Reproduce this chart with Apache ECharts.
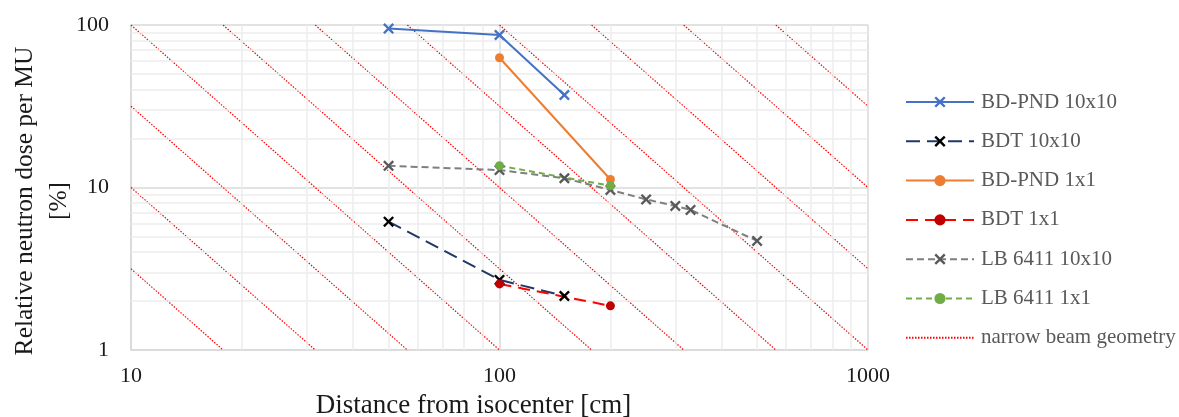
<!DOCTYPE html>
<html>
<head>
<meta charset="utf-8">
<script src="https://cdn.jsdelivr.net/npm/echarts@6/dist/echarts.min.js"></script>
<style>
  html, body { margin: 0; padding: 0; background: #ffffff; }
  #chart { width: 1179px; height: 417px; }
</style>
</head>
<body>
<div id="chart"></div>
<script>
// Relative neutron dose per MU [%] against distance from isocenter [cm]
const distBdPnd10 = [50, 100, 150];
const doseBdPnd10 = [95, 86.8, 37.1];

const distBdt10 = [50, 100, 150];
const doseBdt10 = [6.16, 2.70, 2.15];

const distBdPnd1 = [100, 200];
const doseBdPnd1 = [62.9, 11.2];

const distBdt1 = [100, 200];
const doseBdt1 = [2.55, 1.87];

const distLb10 = [50, 100, 150, 200, 250, 300, 330, 500];
const doseLb10 = [13.6, 12.8, 11.4, 9.66, 8.45, 7.7, 7.28, 4.69];

const distLb1 = [100, 200];
const doseLb1 = [13.6, 10.26];

// Inverse-square reference lines (narrow beam geometry), end points clipped to the axes
const narrowBeamLines = [
  [[10, 3.162], [17.78, 1]],
  [[10, 10], [31.62, 1]],
  [[10, 31.62], [56.23, 1]],
  [[10, 100], [100, 1]],
  [[17.78, 100], [177.8, 1]],
  [[31.62, 100], [316.2, 1]],
  [[56.23, 100], [562.3, 1]],
  [[100, 100], [1000, 1]],
  [[177.8, 100], [1000, 3.162]],
  [[316.2, 100], [1000, 10]],
  [[562.3, 100], [1000, 31.62]]
];

// Axis ranges and minor grid positions
const xRange = [10, 1000];
const yRange = [1, 100];
const minorGridX = [20, 30, 40, 50, 60, 70, 80, 90, 200, 300, 400, 500, 600, 700, 800, 900];
const minorGridY = [2, 3, 4, 5, 6, 7, 8, 9, 20, 30, 40, 50, 60, 70, 80, 90];

const legendNames = ['BD-PND 10x10', 'BDT 10x10', 'BD-PND 1x1', 'BDT 1x1',
  'LB 6411 10x10', 'LB 6411 1x1', 'narrow beam geometry'];

const SERIF = "'Liberation Serif', 'Times New Roman', serif";
const CROSS = 'path://M1.5,0 L5,3.5 L8.5,0 L10,1.5 L6.5,5 L10,8.5 L8.5,10 L5,6.5 L1.5,10 L0,8.5 L3.5,5 L0,1.5 Z';

function pairs(xs, ys) {
  return xs.map((x, i) => [x, ys[i]]);
}

function dataSeries(name, xs, ys, lineColor, markColor, dash, symbol, symbolSize) {
  return {
    name: name,
    type: 'line',
    z: 5,
    data: pairs(xs, ys),
    symbol: symbol,
    symbolSize: symbolSize,
    showSymbol: true,
    lineStyle: { color: lineColor, width: 2, type: dash },
    itemStyle: { color: markColor, borderColor: markColor, borderWidth: 0 },
    emphasis: { disabled: true },
    animation: false
  };
}

const series = [];

// grid lines drawn as value lines through the axes
series.push({
  type: 'line',
  data: [],
  z: 1,
  silent: true,
  animation: false,
  markLine: {
    silent: true,
    symbol: 'none',
    animation: false,
    label: { show: false },
    lineStyle: { color: '#ECECEC', width: 1.5, type: 'solid' },
    data: minorGridX.map(v => ({ xAxis: v })).concat(minorGridY.map(v => ({ yAxis: v })))
  }
});

narrowBeamLines.forEach(seg => {
  series.push({
    name: 'narrow beam geometry',
    type: 'line',
    z: 3,
    data: seg,
    symbol: 'none',
    lineStyle: { color: '#FF0000', width: 1.2, type: [1.5, 1.5] },
    itemStyle: { color: '#FF0000' },
    emphasis: { disabled: true },
    animation: false
  });
});

series.push(dataSeries('BD-PND 10x10', distBdPnd10, doseBdPnd10, '#4472C4', '#4472C4', 'solid', CROSS, 11));
series.push(dataSeries('BDT 10x10', distBdt10, doseBdt10, '#203864', '#000000', [14, 7], CROSS, 11));
series.push(dataSeries('BD-PND 1x1', distBdPnd1, doseBdPnd1, '#ED7D31', '#ED7D31', 'solid', 'circle', 9));
series.push(dataSeries('BDT 1x1', distBdt1, doseBdt1, '#FF0000', '#C00000', [12, 7], 'circle', 9));
series.push(dataSeries('LB 6411 10x10', distLb10, doseLb10, '#7F7F7F', '#595959', [7, 4], CROSS, 11));
series.push(dataSeries('LB 6411 1x1', distLb1, doseLb1, '#70AD47', '#70AD47', [6, 4], 'circle', 9));

const legendData = legendNames.map(n =>
  n === 'narrow beam geometry' ? { name: n, itemStyle: { opacity: 0 } } : { name: n });

const chart = echarts.init(document.getElementById('chart'), null, { renderer: 'canvas' });

chart.setOption({
  backgroundColor: '#ffffff',
  animation: false,
  grid: { left: 131, right: 311, top: 25, bottom: 67, containLabel: false, outerBoundsMode: 'none' },
  xAxis: {
    type: 'log',
    logBase: 10,
    min: xRange[0],
    max: xRange[1],
    name: 'Distance from isocenter [cm]',
    nameLocation: 'middle',
    nameGap: 42,
    nameMoveOverlap: false,
    nameTextStyle: { fontFamily: SERIF, fontSize: 27, color: '#1a1a1a', padding: [0, 52, 0, 0] },
    axisLine: { show: true, lineStyle: { color: '#D9D9D9', width: 1.5 } },
    axisTick: { show: false },
    axisLabel: { fontFamily: SERIF, fontSize: 22, color: '#1a1a1a', margin: 15, formatter: v => String(v) },
    splitLine: { show: true, lineStyle: { color: '#D9D9D9', width: 1.5 } }
  },
  yAxis: {
    type: 'log',
    logBase: 10,
    min: yRange[0],
    max: yRange[1],
    name: 'Relative neutron dose per MU\n[%]',
    nameLocation: 'middle',
    nameRotate: 90,
    nameGap: 55,
    nameMoveOverlap: false,
    nameTextStyle: { fontFamily: SERIF, fontSize: 25.5, lineHeight: 34, color: '#1a1a1a', align: 'center', padding: [0, 27, 0, 0] },
    axisLine: { show: true, lineStyle: { color: '#D9D9D9', width: 1.5 } },
    axisTick: { show: false },
    axisLabel: { fontFamily: SERIF, fontSize: 22, color: '#1a1a1a', margin: 22, formatter: v => String(v) },
    splitLine: { show: true, lineStyle: { color: '#D9D9D9', width: 1.5 } }
  },
  legend: {
    data: legendData,
    orient: 'vertical',
    left: 905,
    top: 90,
    padding: 0,
    itemWidth: 68,
    itemHeight: 14,
    itemGap: 15.3,
    selectedMode: false,
    textStyle: { fontFamily: SERIF, fontSize: 21, lineHeight: 24, color: '#595959', padding: [0, 0, 0, 2] }
  },
  series: series
});
</script>
</body>
</html>
